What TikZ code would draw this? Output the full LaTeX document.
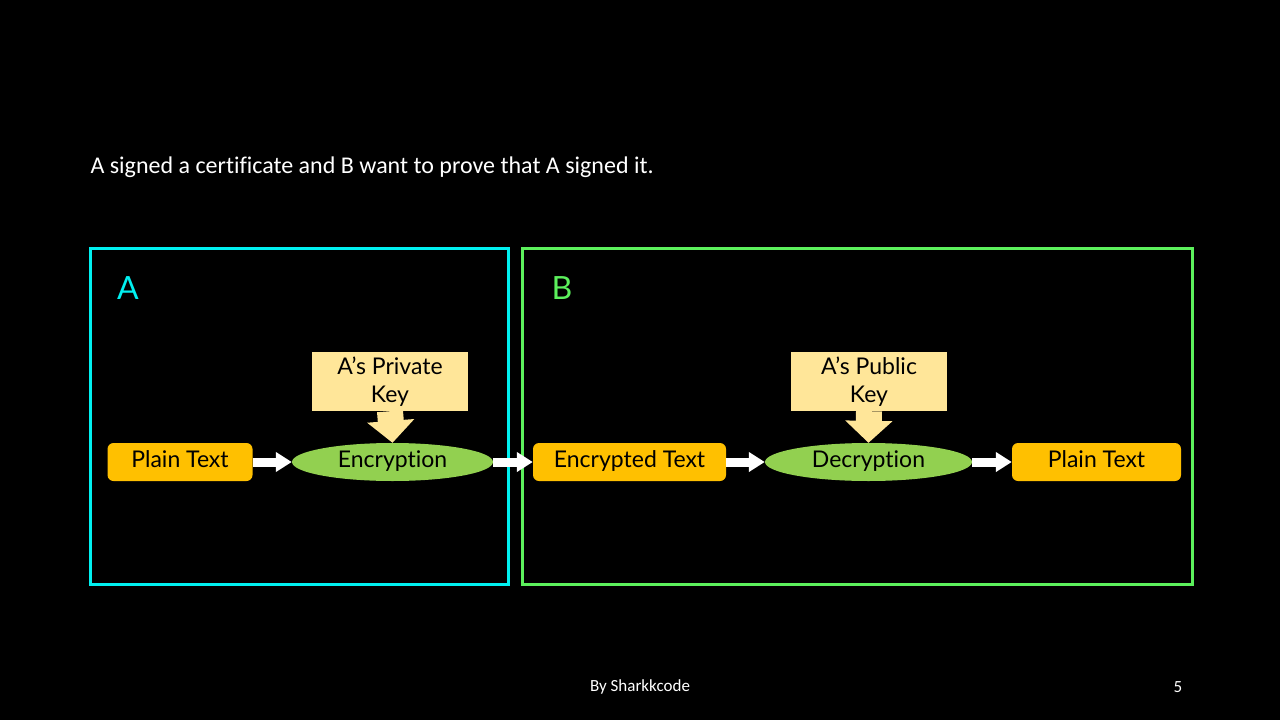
\documentclass[tikz,border=0pt]{standalone}
\usepackage{fontspec}
\setmainfont[Ligatures=NoCommon]{Carlito}
\newfontfamily\boxfont[Ligatures=NoCommon]{Lato}
\usepackage{tikz}
\usetikzlibrary{arrows.meta, shapes.geometric}
\definecolor{boxA}{HTML}{00F0F0}
\definecolor{boxB}{HTML}{5CF05C}
\definecolor{plainbox}{HTML}{FFC000}
\definecolor{cryptbox}{HTML}{92D050}
\definecolor{keybox}{HTML}{FFE699}

\begin{document}
\begin{tikzpicture}[x=1pt,y=-1pt,
    txtbox/.style={fill=plainbox, rounded corners=6pt, minimum height=38pt, inner sep=0pt,
      text height=16pt, text depth=5pt, font=\boxfont\fontsize{23}{25}\selectfont},
    cryptnode/.style={ellipse, fill=cryptbox, minimum height=38pt, inner sep=0pt,
      text height=16pt, text depth=5pt, font=\boxfont\fontsize{23}{25}\selectfont},
    keynode/.style={fill=keybox, minimum width=156pt, minimum height=59pt, inner sep=0pt,
      align=center, font=\boxfont\fontsize{23}{28}\selectfont},
    flow/.style={draw=white, line width=9pt, -{Triangle[length=16pt,width=19pt]}},
    keyflow/.style={draw=keybox, line width=26pt, -{Triangle[length=22pt,width=46pt]}}]
    \fill[black] (0,0) rectangle (1280,720);
    \useasboundingbox (0,0) rectangle (1280,720);
    % title and frames
    \node[anchor=west, white, font=\fontsize{24}{27}\selectfont] (title) at (87,167)
      {A signed a certificate and B want to prove that A signed it.};
    \draw[boxA, line width=3pt] (90,248) rectangle (508,584);
    \draw[boxB, line width=3pt] (522,248) rectangle (1192,584);
    \node[boxA, font=\boxfont\fontsize{32}{34}\selectfont] (labA) at (128,288) {A};
    \node[boxB, font=\boxfont\fontsize{32}{34}\selectfont] (labB) at (562,288) {B};
    % the chain
    \node[txtbox, minimum width=145pt] (plainA) at (180,462) {Plain Text};
    \node[cryptnode, minimum width=201pt] (enc) at (392.5,462) {Encryption};
    \node[keynode] (privkey) at (390,381.5) {A’s Private\\Key};
    \node[txtbox, minimum width=193pt] (cipher) at (629.5,462) {Encrypted Text};
    \node[cryptnode, minimum width=207pt] (dec) at (868.5,462) {Decryption};
    \node[keynode] (pubkey) at (869,381.5) {A’s Public\\Key};
    \node[txtbox, minimum width=169pt] (plainB) at (1096.5,462) {Plain Text};
    \draw[flow] (plainA) -- (enc);
    \draw[flow] (enc) -- (cipher);
    \draw[flow] (cipher) -- (dec);
    \draw[flow] (dec) -- (plainB);
    \draw[keyflow] (privkey.south) -- (enc.north);
    \draw[keyflow] (pubkey.south) -- (dec.north);
    % footer
    \node[white, font=\fontsize{17}{19}\selectfont] (credit) at (640,687) {By Sharkkcode};
    \node[white, font=\fontsize{17}{19}\selectfont] (pagenum) at (1178,687) {5};
\end{tikzpicture}
\end{document}
